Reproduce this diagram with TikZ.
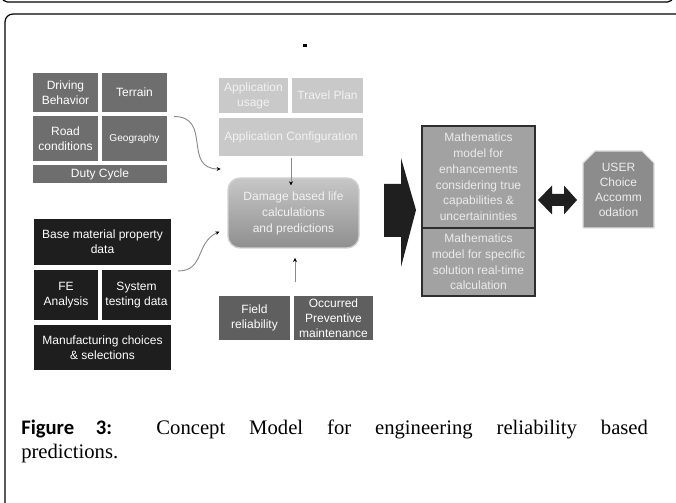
\documentclass[tikz,border=0pt]{standalone}
\usepackage{fontspec}
\setmainfont{Liberation Serif}
\setsansfont{Liberation Sans}
\newfontfamily\capfont{Carlito}
\usetikzlibrary{arrows.meta,calc}

\definecolor{drvgray}{HTML}{6E6E6E}
\definecolor{matblack}{HTML}{1E1E1E}
\definecolor{appgray}{HTML}{C9C9C9}
\definecolor{apptext}{HTML}{F2F2F2}
\definecolor{fldgray}{HTML}{5F5F5F}
\definecolor{mathgray}{HTML}{A2A2A2}
\definecolor{mathline}{HTML}{2E2E2E}
\definecolor{usergray}{HTML}{8C8C8C}
\definecolor{linkgray}{HTML}{8A8A8A}

\begin{document}
\begin{tikzpicture}[x=0.75pt,y=0.75pt,>=Stealth,
  sz/.style 2 args={minimum width=#1*0.75pt,minimum height=#2*0.75pt},
  cell/.style={draw=white,line width=1pt,align=center,text=white,inner sep=1pt,
    font=\sffamily\fontsize{9}{11.2}\selectfont},
  drvcell/.style={cell,fill=drvgray},
  matcell/.style={cell,fill=matblack},
  appcell/.style={cell,fill=appgray,text=apptext},
  fldcell/.style={cell,fill=fldgray},
  mathcell/.style={cell,fill=mathgray,draw=mathline,line width=1.1pt,text=white!92!black,
    font=\sffamily\fontsize{9}{11.8}\selectfont},
  link/.style={draw=linkgray,line width=0.7pt,-{Stealth[length=3pt,width=3pt,black]}}]
  \useasboundingbox (0,0) rectangle (676,503);
  \clip (0,0) rectangle (676,503);

  % Frames of the page
  \draw[line width=0.9pt,rounded corners=4] (2,520) -- (2,501) -- (673,501) -- (673,520);
  \draw[line width=0.9pt,rounded corners=6] (5,-20) -- (5,489) -- (700,489);
  \fill (303,455.5) rectangle (307,458.5);

  % Duty cycle group
  \node[drvcell,sz={67}{41}] (drv) at (65.5,410.5) {Driving\\Behavior};
  \node[drvcell,sz={67}{41}] (ter) at (134.5,410.5) {Terrain};
  \node[drvcell,sz={67}{47}] (road) at (65.5,364.5) {Road\\conditions};
  \node[drvcell,sz={67}{47},font=\sffamily\fontsize{7.6}{9}\selectfont] (geo) at (134.5,364.5) {Geography};
  \node[drvcell,sz={136}{20}] (duty) at (100,329) {Duty Cycle};

  % Material group
  \node[matcell,sz={139}{48}] (base) at (102.5,261) {Base material property\\data};
  \node[matcell,sz={66}{52}] (fe) at (66,208) {FE\\Analysis};
  \node[matcell,sz={71}{52}] (sys) at (136.5,208) {System\\testing data};
  \node[matcell,sz={139}{47}] (manu) at (102.5,155.5) {Manufacturing choices\\\& selections};

  % Application group
  \node[appcell,sz={71}{37}] (appu) at (253.5,407.5) {Application\\usage};
  \node[appcell,sz={73}{37}] (trav) at (327.5,407.5) {Travel Plan};
  \node[appcell,sz={146}{40}] (conf) at (291,366) {Application Configuration};

  % Damage box
  \node[cell,sz={131}{70},rounded corners=9,draw=black!18,top color=black!22,
    bottom color=black!44,text=white!95!black,font=\sffamily\fontsize{9}{12}\selectfont]
    (dmg) at (293.5,290) {Damage based life\\calculations\\and predictions};

  % Field group
  \node[fldcell,sz={73}{46}] (fld) at (254.5,185) {Field\\reliability};
  \node[fldcell,sz={81}{46}] (occ) at (333.5,185) {Occurred\\Preventive\\maintenance};

  % Links into the damage box
  \draw[link] (conf.south) -- ([yshift=-6]conf.south |- dmg.north);
  \draw[link] ([xshift=2,yshift=9]occ.north west) -- ([xshift=2,yshift=-7]occ.north west |- dmg.south);
  \draw[link] ([xshift=4,yshift=16.5]geo.east) to[out=0,in=180,looseness=1.4] ([xshift=-5,yshift=33]dmg.west);
  \draw[link] ([xshift=4,yshift=18]sys.east) to[out=0,in=205,looseness=1.2] ([xshift=-6,yshift=-14]dmg.west);

  % Big arrow
  \fill[black!88] (384,319) -- (401,319) -- (401,345) -- (416,293) -- (401,236) -- (401,266) -- (384,266) -- cycle;

  % Mathematics models
  \node[mathcell,sz={113}{102}] (m1) at (478.5,326) {Mathematics\\model for\\enhancements\\considering true\\capabilities \&\\uncertaininties};
  \node[mathcell,sz={113}{68}] (m2) at (478.5,241) {Mathematics\\model for specific\\solution real-time\\calculation};

  % Double arrow
  \fill[black!88] (538,303) -- (552,317.5) -- (552,309) -- (564,309) -- (564,317.5) -- (577,303)
    -- (564,288.5) -- (564,297) -- (552,297) -- (552,288.5) -- cycle;

  % User box
  \fill[usergray,draw=black!12,line width=0.8pt] (583,275) -- (583,340) -- (595,352) -- (642,352) -- (654,340) -- (654,275) -- cycle;
  \node[cell,draw=none,text=white!93!black] (user) at (618.5,313.5) {USER\\Choice\\Accomm\\odation};

  % Caption
  \node[anchor=north west,text width=470pt,align=justify,inner sep=0pt,font=\fontsize{15.5}{18}\selectfont] (cap) at (21,83)
    {{\capfont\bfseries Figure 3:} Concept Model for engineering reliability based\linebreak predictions.};
\end{tikzpicture}
\end{document}
